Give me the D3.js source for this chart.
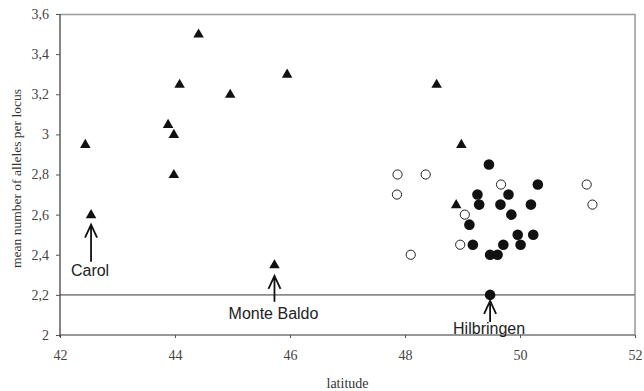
<!DOCTYPE html>
<html lang="en">
<head>
<meta charset="utf-8" />
<title>alleles vs latitude</title>
<script src="https://d3js.org/d3.v7.min.js"></script>
<style>
  body { margin: 0; background: #fff; }
  svg text { font-family: "Liberation Serif", "Times New Roman", serif; }
</style>
</head>
<body>
<div id="chart"></div>
<script>
// southern populations (triangles)
const triLat = [42.44, 42.54, 43.88, 43.98, 43.98, 44.08, 44.41, 44.96, 45.73, 45.95, 48.55, 48.98, 48.89];
const triVal = [2.95, 2.6, 3.05, 3.0, 2.8, 3.25, 3.5, 3.2, 2.35, 3.3, 3.25, 2.95, 2.65];

// filled circles
const dotLat = [49.46, 50.31, 49.26, 49.80, 49.29, 49.66, 50.19, 49.85, 49.12, 49.96, 50.23, 49.18, 49.71, 50.01, 49.48, 49.61, 49.48];
const dotVal = [2.85, 2.75, 2.7, 2.7, 2.65, 2.65, 2.65, 2.6, 2.55, 2.5, 2.5, 2.45, 2.45, 2.45, 2.4, 2.4, 2.2];

// open circles
const ringLat = [47.87, 48.36, 47.86, 49.67, 51.16, 51.26, 49.04, 48.96, 48.10];
const ringVal = [2.8, 2.8, 2.7, 2.75, 2.75, 2.65, 2.6, 2.45, 2.4];

const xTicks = [42, 44, 46, 48, 50, 52];
const yTicks = [2, 2.2, 2.4, 2.6, 2.8, 3, 3.2, 3.4, 3.6];
const refLine = 2.2;

const labelNames = ["Carol", "Monte Baldo", "Hilbringen"];
const labelLat = [42.54, 45.73, 49.48];
const labelVal = [2.6, 2.35, 2.2];

// arrow / text offsets below each labelled marker (px)
const arrowGap = [10, 11, 6];
const arrowEnd = [47, 37, 27];
const textDrop = [61, 54, 39];

const W = 644, H = 391;
const margin = { top: 14, right: 9, bottom: 56, left: 60 };
const w = W - margin.left - margin.right;
const h = H - margin.top - margin.bottom;
const serif = "'Liberation Serif', 'Times New Roman', serif";

const svg = d3.select("#chart").append("svg")
    .attr("width", W).attr("height", H);
const g = svg.append("g")
    .attr("transform", `translate(${margin.left},${margin.top})`);

const x = d3.scaleLinear().domain([42, 52]).range([0, w]);
const y = d3.scaleLinear().domain([2, 3.6]).range([h, 0]);
const fmt = d => String(d).replace(".", ",");

// top and right frame
g.append("path")
    .attr("d", `M0,0.5H${w}V${h}`)
    .attr("fill", "none").attr("stroke", "#999").attr("stroke-width", 1.5);

// reference line at 2,2
g.append("line")
    .attr("x1", 0).attr("x2", w)
    .attr("y1", y(refLine)).attr("y2", y(refLine))
    .attr("stroke", "#8a8a8a").attr("stroke-width", 1.6);

// axes
const xAxis = g.append("g")
    .attr("transform", `translate(0,${h})`)
    .call(d3.axisBottom(x).tickValues(xTicks).tickSize(3).tickPadding(12).tickFormat(d3.format("d")));
const yAxis = g.append("g")
    .call(d3.axisLeft(y).tickValues(yTicks).tickSize(4).tickPadding(7).tickFormat(fmt));

[xAxis, yAxis].forEach(a => {
    a.attr("font-family", serif).attr("font-size", 14);
    a.select(".domain").attr("stroke", "#333").attr("stroke-width", 1.2);
    a.selectAll(".tick line").attr("stroke", "#555");
    a.selectAll(".tick text").attr("fill", "#444");
});
xAxis.select(".domain").attr("d", `M0,0H${w}`);
yAxis.select(".domain").attr("d", `M0,0V${h + 2}`);

// axis titles
svg.append("text")
    .attr("x", margin.left + w / 2).attr("y", 388)
    .attr("text-anchor", "middle")
    .attr("fill", "#333").style("font-size", "14px")
    .text("latitude");

svg.append("text")
    .attr("transform", `translate(21,${margin.top + h / 2 + 4}) rotate(-90)`)
    .attr("text-anchor", "middle")
    .attr("fill", "#333").style("font-size", "13.5px")
    .text("mean number of alleles per locus");

// markers
const tri = d3.symbol().type(d3.symbolTriangle).size(48);
g.selectAll(".tri")
    .data(d3.zip(triLat, triVal))
    .enter().append("path")
    .attr("class", "tri")
    .attr("d", tri)
    .attr("transform", d => `translate(${x(d[0])},${y(d[1]) + 0.5})`)
    .attr("fill", "#111");

g.selectAll(".ring")
    .data(d3.zip(ringLat, ringVal))
    .enter().append("circle")
    .attr("class", "ring")
    .attr("cx", d => x(d[0])).attr("cy", d => y(d[1]))
    .attr("r", 4.6)
    .attr("fill", "#fff").attr("stroke", "#222").attr("stroke-width", 1);

g.selectAll(".dot")
    .data(d3.zip(dotLat, dotVal))
    .enter().append("circle")
    .attr("class", "dot")
    .attr("cx", d => x(d[0])).attr("cy", d => y(d[1]))
    .attr("r", 5.3)
    .attr("fill", "#111");

// labelled arrows
const notes = labelNames.map((n, i) => ({
    name: n, cx: x(labelLat[i]), cy: y(labelVal[i]),
    gap: arrowGap[i], end: arrowEnd[i], drop: textDrop[i]
}));

const arrows = g.selectAll(".note")
    .data(notes)
    .enter().append("g")
    .attr("class", "note");

arrows.append("path")
    .attr("d", d => {
        const tip = d.cy + d.gap;
        return `M${d.cx},${d.cy + d.end}V${tip}M${d.cx - 6},${tip + 13}L${d.cx},${tip}L${d.cx + 6},${tip + 13}`;
    })
    .attr("fill", "none").attr("stroke", "#111").attr("stroke-width", 1.8);

arrows.append("text")
    .attr("x", d => d.cx - 1).attr("y", d => d.cy + d.drop)
    .attr("text-anchor", "middle")
    .attr("fill", "#222")
    .style("font-family", "'Liberation Sans', Arial, sans-serif")
    .style("font-size", "16px")
    .text(d => d.name);
</script>
</body>
</html>
